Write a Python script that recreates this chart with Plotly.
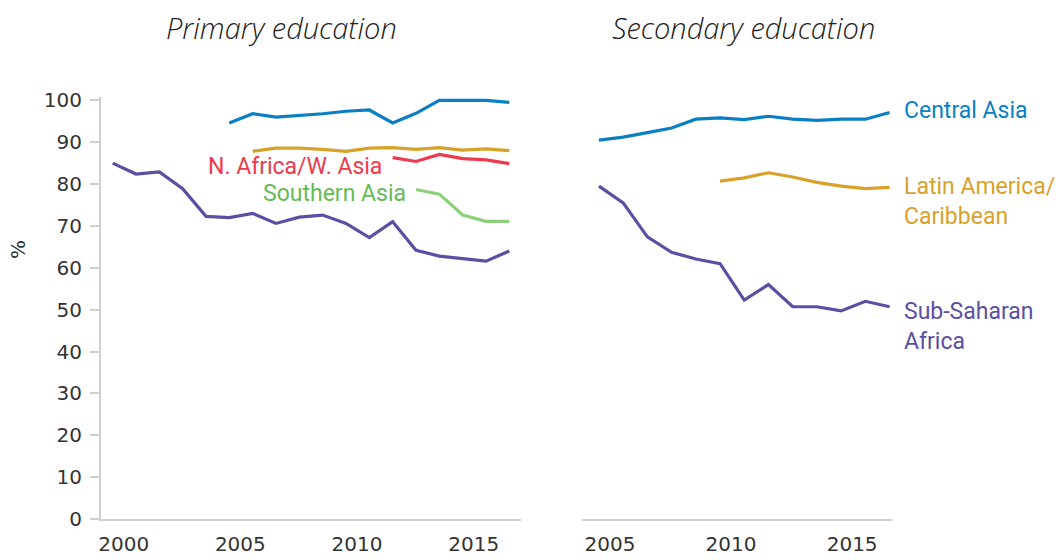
import plotly.graph_objects as go

W, H = 1059, 560

# ---------------- data ----------------
years_primary = list(range(2000, 2018))
years_secondary = list(range(2005, 2018))

# Primary education
p_central_asia_years = list(range(2005, 2018))
p_central_asia = [94.6, 96.8, 96.0, 96.4, 96.8, 97.4, 97.7, 94.6, 96.9, 100.0, 100.0, 100.0, 99.5]
p_latam_years = list(range(2006, 2018))
p_latam = [87.8, 88.6, 88.6, 88.3, 87.8, 88.6, 88.7, 88.3, 88.7, 88.1, 88.4, 88.0]
p_nafrica_years = list(range(2012, 2018))
p_nafrica = [86.3, 85.4, 87.1, 86.1, 85.8, 84.9]
p_southasia_years = list(range(2013, 2018))
p_southasia = [78.7, 77.6, 72.6, 71.1, 71.1]
p_ssa_years = years_primary
p_ssa = [85.0, 82.4, 82.9, 78.9, 72.3, 72.0, 73.0, 70.6, 72.1, 72.6, 70.6, 67.2,
         71.0, 64.2, 62.8, 62.2, 61.6, 64.0]

# Secondary education
s_central_asia_years = years_secondary
s_central_asia = [90.5, 91.2, 92.3, 93.4, 95.5, 95.8, 95.4, 96.2, 95.5, 95.2, 95.5, 95.5, 97.1]
s_latam_years = list(range(2010, 2018))
s_latam = [80.7, 81.5, 82.7, 81.7, 80.4, 79.5, 78.9, 79.2]
s_ssa_years = years_secondary
s_ssa = [79.5, 75.5, 67.4, 63.7, 62.1, 61.0, 52.3, 56.0, 50.7, 50.7, 49.7, 52.0, 50.7]

y_ticks = [0, 10, 20, 30, 40, 50, 60, 70, 80, 90, 100]
x_ticks_primary = [2000, 2005, 2010, 2015]
x_ticks_secondary = [2005, 2010, 2015]

titles = ["Primary education", "Secondary education"]

# ---------------- styles ----------------
C_BLUE = "#0a7fc4"
C_GOLD = "#d8a12a"
C_RED = "#ee3a4e"
C_GREEN = "#8dd07a"
C_GREEN_TXT = "#64bb55"
C_PURPLE = "#5a50a3"
LW = 3.2
TXT = "#333333"
AX = "#cfcfcf"
TICK_FONT = dict(family="DejaVu Sans, Noto Sans, sans-serif", size=20, color=TXT)
LAB_FONT = "Roboto, Noto Sans, sans-serif"

fig = go.Figure()

def add_line(x, y, color, xa, ya):
    fig.add_trace(go.Scatter(x=x, y=y, mode="lines", line=dict(color=color, width=LW),
                             xaxis=xa, yaxis=ya, showlegend=False, hoverinfo="skip"))

add_line(p_central_asia_years, p_central_asia, C_BLUE, "x", "y")
add_line(p_latam_years, p_latam, C_GOLD, "x", "y")
add_line(p_nafrica_years, p_nafrica, C_RED, "x", "y")
add_line(p_southasia_years, p_southasia, C_GREEN, "x", "y")
add_line(p_ssa_years, p_ssa, C_PURPLE, "x", "y")

add_line(s_central_asia_years, s_central_asia, C_BLUE, "x2", "y2")
add_line(s_latam_years, s_latam, C_GOLD, "x2", "y2")
add_line(s_ssa_years, s_ssa, C_PURPLE, "x2", "y2")

def px(x):
    return x / W

def py(y):
    return 1 - y / H

y_dom = [py(519), py(97)]

fig.update_layout(
    width=W, height=H, autosize=False,
    margin=dict(l=0, r=0, t=0, b=0, pad=0, autoexpand=False),
    paper_bgcolor="white", plot_bgcolor="white",
    xaxis=dict(domain=[px(101), px(521)], range=[1999.5, 2017.5], automargin=False,
               tickvals=x_ticks_primary, ticks="", showgrid=False, zeroline=False,
               showline=True, linecolor=AX, linewidth=2, tickfont=TICK_FONT,
               ticklabelshift=11, ticklabelstandoff=6, anchor="y"),
    yaxis=dict(domain=y_dom, range=[0, 100.8], tickvals=y_ticks, ticks="outside", automargin=False,
               ticklen=9, tickcolor=AX, tickwidth=2, showgrid=False, zeroline=False,
               showline=True, linecolor=AX, linewidth=2, tickfont=TICK_FONT,
               ticklabelstandoff=4, anchor="x"),
    xaxis2=dict(domain=[px(582), px(892)], range=[2004.3, 2017.1], automargin=False,
                tickvals=x_ticks_secondary, ticks="", showgrid=False, zeroline=False,
                showline=True, linecolor=AX, linewidth=2, tickfont=TICK_FONT,
                ticklabelshift=11, ticklabelstandoff=6, anchor="y2"),
    yaxis2=dict(domain=y_dom, range=[0, 100.8], showticklabels=False, ticks="", automargin=False,
                showgrid=False, zeroline=False, showline=False, anchor="x2"),
)

ann = []
TITLE_FONT = dict(family="Open Sans, sans-serif", size=29, color="#222", style="italic", weight=300)
ann.append(dict(text=titles[0], x=px(281), y=py(27), xref="paper", yref="paper",
                showarrow=False, xanchor="center", yanchor="middle", font=TITLE_FONT))
ann.append(dict(text=titles[1], x=px(743), y=py(27), xref="paper", yref="paper",
                showarrow=False, xanchor="center", yanchor="middle", font=TITLE_FONT))
ann.append(dict(text="%", x=px(18), y=py(250), xref="paper", yref="paper", showarrow=False,
                textangle=-90, xanchor="center", yanchor="middle",
                font=dict(family="DejaVu Sans, sans-serif", size=20, color=TXT)))

def lab(text, x, y, color, anchor="left"):
    ann.append(dict(text=text, x=px(x), y=py(y), xref="paper", yref="paper", showarrow=False,
                    xanchor=anchor, yanchor="middle", align="left",
                    font=dict(family=LAB_FONT, size=23, color=color)))

lab("N. Africa/W. Asia", 206, 166, C_RED)
lab("Southern Asia", 261, 193, C_GREEN_TXT)
lab("Central Asia", 902, 111, C_BLUE)
lab("Latin America/<br>Caribbean", 902, 201, C_GOLD)
lab("Sub-Saharan<br>Africa", 902, 326, C_PURPLE)

fig.update_layout(annotations=ann)
fig.write_html("out.html", config={"responsive": False, "displayModeBar": False},
               post_script="document.body.style.margin='0px';")
